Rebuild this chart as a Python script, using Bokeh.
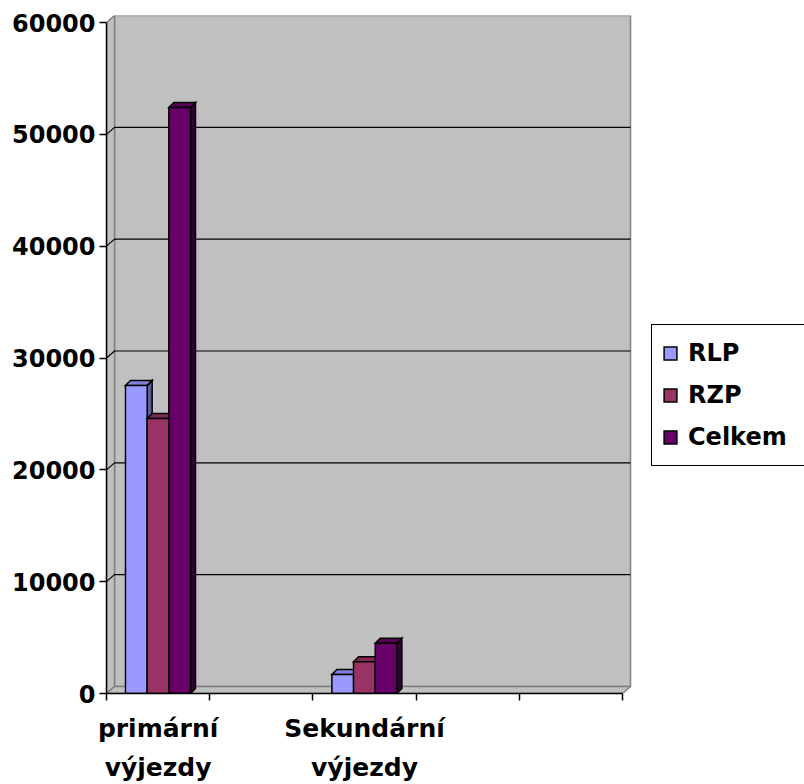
from bokeh.plotting import figure
from bokeh.models import Range1d, FixedTicker, LinearAxis, Legend, LegendItem, ColumnDataSource
from bokeh.embed import file_html
from bokeh.resources import INLINE

# ---------------- data ----------------
categories = ["primární výjezdy", "", "Sekundární výjezdy", "", ""]
cat_line1 = ["primární", "", "Sekundární", "", ""]
cat_line2 = ["výjezdy", "", "výjezdy", "", ""]
series = ["RLP", "RZP", "Celkem"]
rlp = [27550, None, 1700, None, None]
rzp = [24600, None, 2850, None, None]
celkem = [52400, None, 4500, None, None]
y_ticks = [0, 10000, 20000, 30000, 40000, 50000, 60000]
y_max = 60000

# ---------------- styles / layout ----------------
front_colors = ["#9999FF", "#993366", "#660066"]
top_colors = ["#8080DD", "#802A55", "#550055"]
side_colors = ["#5C5C99", "#5C1F3D", "#330033"]
WALL = "#C0C0C0"
WALL_EDGE = "#808080"
FONT = "DejaVu Sans"

FIG_W, FIG_H = 804, 784
B_LEFT, B_TOP, B_BOTTOM = 106, 15, 91
CAT_PX = 103.2                 # px per category slot
VAL_PX = 671.0 / y_max         # px per value unit
WALL_DX_PX, WALL_DY_PX = 8, 7
BAR_DX_PX, BAR_DY_PX = 5, 5
GROUP_OFFSET, BAR_W = 0.184, 0.21

frame_w = FIG_W - B_LEFT
frame_h = FIG_H - B_TOP - B_BOTTOM
x_end = frame_w / CAT_PX
y_end = frame_h / VAL_PX
wdx, wdy = WALL_DX_PX / CAT_PX, WALL_DY_PX / VAL_PX
bdx, bdy = BAR_DX_PX / CAT_PX, BAR_DY_PX / VAL_PX
n_cat = len(categories)

p = figure(width=FIG_W, height=FIG_H, output_backend="svg", toolbar_location=None,
           x_range=Range1d(0, x_end), y_range=Range1d(0, y_end),
           min_border_left=B_LEFT, min_border_top=B_TOP, min_border_bottom=B_BOTTOM,
           min_border_right=0, x_axis_location=None, y_axis_location=None)
p.outline_line_color = None
p.grid.visible = False
p.background_fill_color = "white"
p.border_fill_color = "white"

# ---- walls & floor ----
p.patch([wdx, n_cat + wdx, n_cat + wdx, wdx], [wdy, wdy, y_max + wdy, y_max + wdy],
        fill_color=WALL, line_color=WALL_EDGE, line_width=1.5)
p.patch([0, wdx, wdx, 0], [0, wdy, y_max + wdy, y_max],
        fill_color=WALL, line_color=WALL_EDGE, line_width=1.5)
p.patch([0, n_cat, n_cat + wdx, wdx], [0, 0, wdy, wdy],
        fill_color=WALL, line_color=WALL_EDGE, line_width=1.5)

# gridlines on back wall (with diagonal on side wall)
gx, gy = [], []
for t in y_ticks[1:-1]:
    gx.append([0, wdx, n_cat + wdx])
    gy.append([t, t + wdy, t + wdy])
p.multi_line(gx, gy, line_color="black", line_width=1.2)

# ---- 3D bars (one renderer per series) ----
items = []
for j, vals in enumerate([rlp, rzp, celkem]):
    xs, ys, fc = [], [], []
    front_idx = None
    for i in range(n_cat):
        v = vals[i]
        if v is None:
            continue
        l = i + GROUP_OFFSET + j * BAR_W
        r = l + BAR_W
        xs.append([r, r + bdx, r + bdx, r]); ys.append([0, bdy, v + bdy, v]); fc.append(side_colors[j])
        xs.append([l, r, r + bdx, l + bdx]); ys.append([v, v, v + bdy, v + bdy]); fc.append(top_colors[j])
        xs.append([l, r, r, l]); ys.append([0, 0, v, v]); fc.append(front_colors[j])
        if front_idx is None:
            front_idx = len(xs) - 1
    src = ColumnDataSource(dict(xs=xs, ys=ys, fc=fc))
    rend = p.patches("xs", "ys", source=src, fill_color="fc", line_color="black",
                     line_width=1.5, line_join="miter")
    items.append(LegendItem(label=series[j], renderers=[rend], index=front_idx))

# ---- axes ----
yax = LinearAxis(ticker=FixedTicker(ticks=y_ticks, minor_ticks=[]), bounds=(0, y_max))
yax.axis_line_color = "black"; yax.axis_line_width = 1.5
yax.major_tick_out = 7; yax.major_tick_in = 0
yax.major_tick_line_width = 1.5
yax.minor_tick_line_color = None
yax.major_label_standoff = 4
yax.major_label_text_font = FONT
yax.major_label_text_font_style = "bold"
yax.major_label_text_font_size = "24px"
yax.major_label_text_color = "black"
p.add_layout(yax, "left")

centers = [i + 0.5 for i in range(n_cat)]
xax1 = LinearAxis(ticker=FixedTicker(ticks=centers, minor_ticks=list(range(n_cat + 1))),
                  bounds=(0, n_cat))
xax1.major_label_overrides = {c: lab for c, lab in zip(centers, cat_line1)}
xax1.axis_line_color = "black"; xax1.axis_line_width = 1.5
xax1.major_tick_out = 0; xax1.major_tick_in = 0
xax1.minor_tick_out = 7; xax1.minor_tick_in = 0
xax1.minor_tick_line_color = "black"; xax1.minor_tick_line_width = 1.5
xax1.major_label_standoff = 13
xax1.major_label_text_font = FONT
xax1.major_label_text_font_style = "bold"
xax1.major_label_text_font_size = "25px"
xax1.major_label_text_color = "black"
p.add_layout(xax1, "below")

xax2 = LinearAxis(ticker=FixedTicker(ticks=centers, minor_ticks=[]), bounds=(0, n_cat))
xax2.major_label_overrides = {c: lab for c, lab in zip(centers, cat_line2)}
xax2.axis_line_color = None
xax2.major_tick_line_color = None
xax2.minor_tick_line_color = None
xax2.major_label_standoff = 1
xax2.major_label_text_font = FONT
xax2.major_label_text_font_style = "bold"
xax2.major_label_text_font_size = "25px"
xax2.major_label_text_color = "black"
p.add_layout(xax2, "below")

# ---- legend ----
legend = Legend(items=items, location=(545, 227))
legend.glyph_width = 16; legend.glyph_height = 16
legend.label_standoff = 10
legend.label_height = 36
legend.label_width = 110
legend.spacing = 6
legend.padding = 10
legend.margin = 0
legend.label_text_font = FONT
legend.label_text_font_style = "bold"
legend.label_text_font_size = "24px"
legend.label_text_color = "black"
legend.border_line_color = "black"; legend.border_line_width = 1.5
legend.border_line_alpha = 1
legend.background_fill_color = "white"; legend.background_fill_alpha = 1
p.add_layout(legend)

open("out.html", "w").write(file_html(p, INLINE))
